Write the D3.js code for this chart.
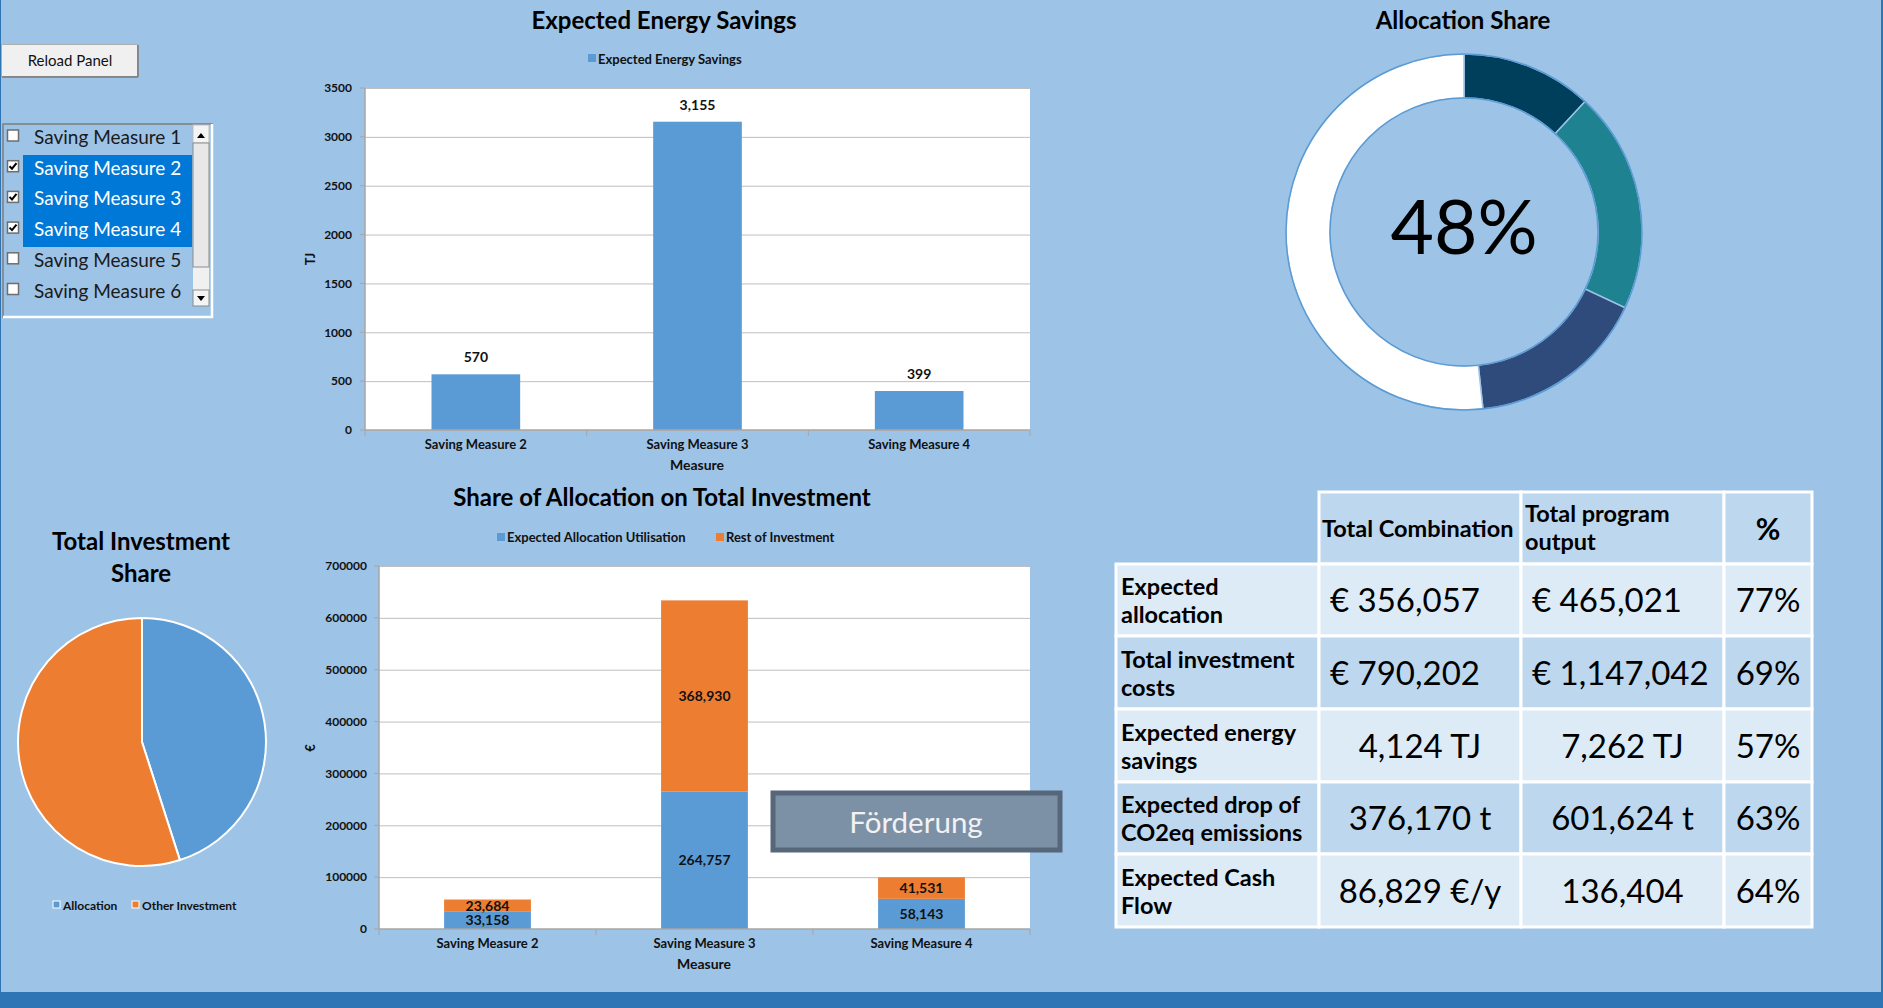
<!DOCTYPE html>
<html><head><meta charset="utf-8">
<script src="https://cdn.jsdelivr.net/npm/d3@7"></script>
<style>
html,body{margin:0;padding:0;background:#9DC3E6;overflow:hidden}
svg{display:block}
text{font-family:Lato,"Open Sans",sans-serif}
</style></head><body>
<svg id="c" width="1883" height="1008"></svg>
<script>
// ---------- DATA ----------
const measures = ["Saving Measure 2", "Saving Measure 3", "Saving Measure 4"];
const energySavings = [570, 3155, 399];
const energyTicks = [0, 500, 1000, 1500, 2000, 2500, 3000, 3500];
const allocationUtil = [33158, 264757, 58143];
const restInvestment = [23684, 368930, 41531];
const investTicks = [0, 100000, 200000, 300000, 400000, 500000, 600000, 700000];
const listItems = ["Saving Measure 1", "Saving Measure 2", "Saving Measure 3", "Saving Measure 4", "Saving Measure 5", "Saving Measure 6"];
const listChecked = [false, true, true, true, false, false];
const donutLabels = ["Saving Measure 2", "Saving Measure 3", "Saving Measure 4", "Remaining"];
const donutValues = [11.9, 20.1, 16.3, 51.7];
const donutCentre = "48%";
const pieLabels = ["Allocation", "Other Investment"];
const pieValues = [356057, 434145];
const tableHeader = [["Total Combination"], ["Total program", "output"], ["%"]];
const tableRowLabels = [["Expected", "allocation"], ["Total investment", "costs"], ["Expected energy", "savings"], ["Expected drop of", "CO2eq emissions"], ["Expected Cash", "Flow"]];
const tableCombination = ["€ 356,057", "€ 790,202", "4,124 TJ", "376,170 t", "86,829 €/y"];
const tableProgram = ["€ 465,021", "€ 1,147,042", "7,262 TJ", "601,624 t", "136,404"];
const tablePct = ["77%", "69%", "57%", "63%", "64%"];

// ---------- STYLE ----------
const BLUE = "#5B9BD5", ORANGE = "#ED7D31", GRID = "#BFBFBF", AXIS = "#A6A6A6";
const TITLE = 24, CAT = 13, LEG = 13, VAL = 14;
const svg = d3.select("#c");

svg.append("rect").attr("x", 0).attr("y", 0).attr("width", 1883).attr("height", 1008).attr("fill", "#9DC3E6");
svg.append("rect").attr("x", 0).attr("y", 992).attr("width", 1883).attr("height", 16).attr("fill", "#2E75B6");
svg.append("rect").attr("x", 1881).attr("y", 0).attr("width", 2).attr("height", 1008).attr("fill", "#2E75B6");
svg.append("rect").attr("x", 0).attr("y", 0).attr("width", 1).attr("height", 1008).attr("fill", "#2E75B6");

// ---------- Reload button ----------
const btn = svg.append("g");
btn.append("rect").attr("x", 1.5).attr("y", 44.5).attr("width", 136).attr("height", 32).attr("fill", "#F0F0F0").attr("stroke", "#ADADAD");
btn.append("line").attr("x1", 2).attr("x2", 138).attr("y1", 77).attr("y2", 77).attr("stroke", "#7A7A7A").attr("stroke-width", 1.5);
btn.append("line").attr("x1", 138).attr("x2", 138).attr("y1", 45).attr("y2", 77).attr("stroke", "#7A7A7A").attr("stroke-width", 1.5);
btn.append("text").attr("x", 70).attr("y", 66).attr("text-anchor", "middle").attr("font-size", 15).attr("fill", "#111").text("Reload Panel");

// ---------- Listbox ----------
const lb = svg.append("g");
lb.append("rect").attr("x", 3).attr("y", 124).attr("width", 209).attr("height", 193).attr("fill", "none").attr("stroke", "#7F7F7F").attr("stroke-width", 1.5);
lb.append("line").attr("x1", 212).attr("x2", 212).attr("y1", 124).attr("y2", 318).attr("stroke", "#FFFFFF").attr("stroke-width", 2.5);
lb.append("line").attr("x1", 3).attr("x2", 213).attr("y1", 317).attr("y2", 317).attr("stroke", "#FFFFFF").attr("stroke-width", 2.5);
const rowH = 30.7, row0 = 124;
lb.append("rect").attr("x", 23).attr("y", 155).attr("width", 169).attr("height", 92).attr("fill", "#0078D7");
listItems.forEach((t, i) => {
  const cy = row0 + rowH * i + 11;
  lb.append("rect").attr("x", 7.5).attr("y", cy - 5).attr("width", 11).attr("height", 11).attr("fill", "#FFFFFF").attr("stroke", "#6E6E6E").attr("stroke-width", 1.5);
  if (listChecked[i]) {
    lb.append("path").attr("d", `M${9.5},${cy + 0.5} L${12},${cy + 3} L${16.5},${cy - 2.5}`).attr("fill", "none").attr("stroke", "#000").attr("stroke-width", 2);
  }
  lb.append("text").attr("x", 34).attr("y", row0 + rowH * i + 20).attr("font-size", 19)
    .attr("fill", listChecked[i] ? "#FFFFFF" : "#1A1A1A").text(t);
});
lb.append("rect").attr("x", 193).attr("y", 125).attr("width", 16).attr("height", 181).attr("fill", "#F0F0F0");
lb.append("rect").attr("x", 193).attr("y", 125).attr("width", 16).attr("height", 18).attr("fill", "#F4F4F4").attr("stroke", "#BDBDBD");
lb.append("rect").attr("x", 193).attr("y", 143).attr("width", 16).attr("height", 124).attr("fill", "#E8E8E8").attr("stroke", "#8C8C8C");
lb.append("rect").attr("x", 193).attr("y", 290).attr("width", 16).attr("height", 16).attr("fill", "#F4F4F4").attr("stroke", "#8C8C8C");
lb.append("path").attr("d", "M197,138 L201,133 L205,138 Z").attr("fill", "#000");
lb.append("path").attr("d", "M197,296 L201,301 L205,296 Z").attr("fill", "#000");

// ---------- Chart 1: Expected Energy Savings ----------
(function () {
  const L = 365, R = 1030, T = 88, B = 430;
  const g = svg.append("g");
  const x = d3.scaleBand().domain(measures).range([L, R]).paddingInner(0.6).paddingOuter(0.3);
  const y = d3.scaleLinear().domain([0, 3500]).range([B, T]);
  g.append("rect").attr("x", L).attr("y", T).attr("width", R - L).attr("height", B - T).attr("fill", "#FFFFFF");
  const ya = d3.axisLeft(y).tickValues(energyTicks).tickSize(R - L).tickPadding(8).tickFormat(d3.format("d"));
  const ag = g.append("g").attr("transform", `translate(${R},0)`).call(ya);
  ag.select(".domain").remove();
  ag.selectAll(".tick line").attr("stroke", GRID);
  ag.selectAll(".tick text").attr("font-size", 12).attr("font-weight", "bold").attr("fill", "#111").attr("x", -(R - L) - 13);
  energyTicks.forEach(v => g.append("line").attr("x1", L - 5).attr("x2", L).attr("y1", y(v)).attr("y2", y(v)).attr("stroke", AXIS));
  g.append("line").attr("x1", L).attr("x2", L).attr("y1", T).attr("y2", B).attr("stroke", AXIS).attr("stroke-width", 1.5);
  g.selectAll("rect.bar").data(energySavings).join("rect").attr("class", "bar")
    .attr("x", (d, i) => x(measures[i])).attr("width", x.bandwidth())
    .attr("y", d => y(d)).attr("height", d => B - y(d)).attr("fill", BLUE);
  g.append("line").attr("x1", L).attr("x2", R).attr("y1", B).attr("y2", B).attr("stroke", AXIS).attr("stroke-width", 1.5);
  const step = x.step();
  for (let i = 0; i <= measures.length; i++) {
    g.append("line").attr("x1", L + step * i).attr("x2", L + step * i).attr("y1", B).attr("y2", B + 6).attr("stroke", AXIS);
  }
  g.selectAll("text.val").data(energySavings).join("text").attr("class", "val")
    .attr("x", (d, i) => x(measures[i]) + x.bandwidth() / 2).attr("y", d => y(d) - 12)
    .attr("text-anchor", "middle").attr("font-size", VAL).attr("font-weight", "bold").attr("fill", "#111")
    .text(d => d3.format(",")(d));
  g.selectAll("text.cat").data(measures).join("text").attr("class", "cat")
    .attr("x", d => x(d) + x.bandwidth() / 2).attr("y", 449).attr("text-anchor", "middle")
    .attr("font-size", CAT).attr("font-weight", "bold").attr("fill", "#111").text(d => d);
  g.append("text").attr("x", 697).attr("y", 470).attr("text-anchor", "middle").attr("font-size", 14).attr("font-weight", "bold").attr("fill", "#111").text("Measure");
  g.append("text").attr("transform", "translate(315,259) rotate(-90)").attr("text-anchor", "middle").attr("font-size", 13).attr("font-weight", "bold").attr("fill", "#111").text("TJ");
  g.append("text").attr("x", 664).attr("y", 29).attr("text-anchor", "middle").attr("font-size", TITLE).attr("font-weight", "bold").attr("fill", "#000").text("Expected Energy Savings");
  g.append("rect").attr("x", 588).attr("y", 54).attr("width", 8).attr("height", 8).attr("fill", BLUE);
  g.append("text").attr("x", 598).attr("y", 63.5).attr("font-size", LEG).attr("font-weight", "bold").attr("fill", "#111").text("Expected Energy Savings");
})();

// ---------- Chart 2: Share of Allocation on Total Investment ----------
(function () {
  const L = 379, R = 1030, T = 566, B = 929;
  const g = svg.append("g");
  const x = d3.scaleBand().domain(measures).range([L, R]).paddingInner(0.6).paddingOuter(0.3);
  const y = d3.scaleLinear().domain([0, 700000]).range([B, T]);
  g.append("rect").attr("x", L).attr("y", T).attr("width", R - L).attr("height", B - T).attr("fill", "#FFFFFF");
  const ya = d3.axisLeft(y).tickValues(investTicks).tickSize(R - L).tickPadding(8).tickFormat(d3.format("d"));
  const ag = g.append("g").attr("transform", `translate(${R},0)`).call(ya);
  ag.select(".domain").remove();
  ag.selectAll(".tick line").attr("stroke", GRID);
  ag.selectAll(".tick text").attr("font-size", 12).attr("font-weight", "bold").attr("fill", "#111").attr("x", -(R - L) - 12);
  investTicks.forEach(v => g.append("line").attr("x1", L - 5).attr("x2", L).attr("y1", y(v)).attr("y2", y(v)).attr("stroke", AXIS));
  g.append("line").attr("x1", L).attr("x2", L).attr("y1", T).attr("y2", B).attr("stroke", AXIS).attr("stroke-width", 1.5);
  const stack = measures.map((m, i) => ({ m, a: allocationUtil[i], r: restInvestment[i] }));
  g.selectAll("rect.a").data(stack).join("rect").attr("class", "a")
    .attr("x", d => x(d.m)).attr("width", x.bandwidth()).attr("y", d => y(d.a)).attr("height", d => B - y(d.a)).attr("fill", BLUE);
  g.selectAll("rect.r").data(stack).join("rect").attr("class", "r")
    .attr("x", d => x(d.m)).attr("width", x.bandwidth()).attr("y", d => y(d.a + d.r)).attr("height", d => y(d.a) - y(d.a + d.r)).attr("fill", ORANGE);
  g.append("line").attr("x1", L).attr("x2", R).attr("y1", B).attr("y2", B).attr("stroke", AXIS).attr("stroke-width", 1.5);
  const step = x.step();
  for (let i = 0; i <= measures.length; i++) {
    g.append("line").attr("x1", L + step * i).attr("x2", L + step * i).attr("y1", B).attr("y2", B + 6).attr("stroke", AXIS);
  }
  const lab = (cls, f) => g.selectAll("text." + cls).data(stack).join("text").attr("class", cls)
    .attr("x", d => x(d.m) + x.bandwidth() / 2).attr("y", d => f(d) + 5)
    .attr("text-anchor", "middle").attr("font-size", VAL).attr("font-weight", "bold").attr("fill", "#111");
  lab("la", d => y(d.a / 2)).text(d => d3.format(",")(d.a));
  lab("lr", d => y(d.a + d.r / 2)).text(d => d3.format(",")(d.r));
  g.selectAll("text.cat").data(measures).join("text").attr("class", "cat")
    .attr("x", d => x(d) + x.bandwidth() / 2).attr("y", 948).attr("text-anchor", "middle")
    .attr("font-size", CAT).attr("font-weight", "bold").attr("fill", "#111").text(d => d);
  g.append("text").attr("x", 704).attr("y", 969).attr("text-anchor", "middle").attr("font-size", 14).attr("font-weight", "bold").attr("fill", "#111").text("Measure");
  g.append("text").attr("transform", "translate(315,748) rotate(-90)").attr("text-anchor", "middle").attr("font-size", 13).attr("font-weight", "bold").attr("fill", "#111").text("€");
  g.append("text").attr("x", 662).attr("y", 506).attr("text-anchor", "middle").attr("font-size", TITLE).attr("font-weight", "bold").attr("fill", "#000").text("Share of Allocation on Total Investment");
  g.append("rect").attr("x", 497).attr("y", 533).attr("width", 8).attr("height", 8).attr("fill", BLUE);
  g.append("text").attr("x", 507).attr("y", 542).attr("font-size", LEG).attr("font-weight", "bold").attr("fill", "#111").text("Expected Allocation Utilisation");
  g.append("rect").attr("x", 716).attr("y", 533).attr("width", 8).attr("height", 8).attr("fill", ORANGE);
  g.append("text").attr("x", 726).attr("y", 542).attr("font-size", LEG).attr("font-weight", "bold").attr("fill", "#111").text("Rest of Investment");

  g.append("rect").attr("x", 773).attr("y", 793).attr("width", 287).attr("height", 57).attr("fill", "#7D91A6").attr("stroke", "#56677A").attr("stroke-width", 5);
  g.append("text").attr("x", 916).attr("y", 833).attr("text-anchor", "middle").attr("font-size", 29.5).attr("fill", "#F2F2F2").text("Förderung");
})();

// ---------- Donut: Allocation Share ----------
(function () {
  const cx = 1464, cy = 232, ro = 178, ri = 134;
  const g = svg.append("g").attr("transform", `translate(${cx},${cy})`);
  const colors = ["#003F5C", "#1E8290", "#2F4B7C", "#FFFFFF"];
  const arcs = d3.pie().sort(null)(donutValues);
  const arc = d3.arc().innerRadius(ri).outerRadius(ro);
  g.selectAll("path").data(arcs).join("path").attr("d", arc)
    .attr("fill", (d, i) => colors[i]).attr("stroke", "#9DC3E6").attr("stroke-width", 1.5);
  g.append("circle").attr("r", ro).attr("fill", "none").attr("stroke", BLUE).attr("stroke-width", 1.5);
  g.append("circle").attr("r", ri).attr("fill", "none").attr("stroke", BLUE).attr("stroke-width", 1.5);
  g.append("text").attr("y", 22).attr("text-anchor", "middle").attr("font-size", 75).attr("fill", "#000").text(donutCentre);
  svg.append("text").attr("x", 1463).attr("y", 29).attr("text-anchor", "middle").attr("font-size", TITLE).attr("font-weight", "bold").attr("fill", "#000").text("Allocation Share");
})();

// ---------- Pie: Total Investment Share ----------
(function () {
  const cx = 142, cy = 742, r = 124;
  const g = svg.append("g").attr("transform", `translate(${cx},${cy})`);
  const arcs = d3.pie().sort(null)(pieValues);
  const arc = d3.arc().innerRadius(0).outerRadius(r);
  g.selectAll("path").data(arcs).join("path").attr("d", arc)
    .attr("fill", (d, i) => [BLUE, ORANGE][i]).attr("stroke", "#FFFFFF").attr("stroke-width", 2);
  svg.append("text").attr("x", 141).attr("y", 550).attr("text-anchor", "middle").attr("font-size", TITLE).attr("font-weight", "bold").attr("fill", "#000").text("Total Investment");
  svg.append("text").attr("x", 141).attr("y", 582).attr("text-anchor", "middle").attr("font-size", TITLE).attr("font-weight", "bold").attr("fill", "#000").text("Share");
  const lg = [[53, 63, 0], [132, 142, 1]];
  lg.forEach(([mx, tx, i]) => {
    svg.append("rect").attr("x", mx).attr("y", 901).attr("width", 7).attr("height", 7).attr("fill", [BLUE, ORANGE][i]).attr("stroke", "#FFFFFF");
    svg.append("text").attr("x", tx).attr("y", 909.5).attr("font-size", 12).attr("font-weight", "bold").attr("fill", "#111").text(pieLabels[i]);
  });
})();

// ---------- Table ----------
(function () {
  const xs = [1116, 1319, 1521, 1724, 1812];
  const ys = [492, 564, 636, 709, 782, 854, 927];
  const g = svg.append("g");
  const DARK = "#BDD7EE", LIGHT = "#DDEBF7";
  for (let c = 1; c < 4; c++) {
    g.append("rect").attr("x", xs[c]).attr("y", ys[0]).attr("width", xs[c + 1] - xs[c]).attr("height", ys[1] - ys[0])
      .attr("fill", DARK).attr("stroke", "#FFFFFF").attr("stroke-width", 3);
  }
  for (let r = 0; r < 5; r++) {
    for (let c = 0; c < 4; c++) {
      g.append("rect").attr("x", xs[c]).attr("y", ys[r + 1]).attr("width", xs[c + 1] - xs[c]).attr("height", ys[r + 2] - ys[r + 1])
        .attr("fill", r % 2 === 0 ? LIGHT : DARK).attr("stroke", "#FFFFFF").attr("stroke-width", 3);
    }
  }
  const HF = 23.5;
  g.append("text").attr("x", xs[1] + 3).attr("y", 537).attr("font-size", HF).attr("font-weight", "bold").attr("fill", "#000").text(tableHeader[0][0]);
  g.append("text").attr("x", xs[2] + 4).attr("y", 522).attr("font-size", HF).attr("font-weight", "bold").attr("fill", "#000").text(tableHeader[1][0]);
  g.append("text").attr("x", xs[2] + 4).attr("y", 550).attr("font-size", HF).attr("font-weight", "bold").attr("fill", "#000").text(tableHeader[1][1]);
  g.append("text").attr("x", (xs[3] + xs[4]) / 2).attr("y", 540).attr("text-anchor", "middle").attr("font-size", 30).attr("font-weight", "bold").attr("fill", "#000").text(tableHeader[2][0]);
  tableRowLabels.forEach((lines, r) => {
    const mid = (ys[r + 1] + ys[r + 2]) / 2;
    lines.forEach((t, k) => g.append("text").attr("x", xs[0] + 5).attr("y", mid - 5 + k * 28).attr("font-size", HF).attr("font-weight", "bold").attr("fill", "#000").text(t));
    const isEuro = v => v.startsWith("€");
    const place = (v, c) => {
      const t = g.append("text").attr("y", mid + 12).attr("font-size", 33).attr("fill", "#000").text(v);
      if (isEuro(v)) t.attr("x", xs[c] + 11);
      else t.attr("x", (xs[c] + xs[c + 1]) / 2).attr("text-anchor", "middle");
    };
    place(tableCombination[r], 1);
    place(tableProgram[r], 2);
    g.append("text").attr("x", (xs[3] + xs[4]) / 2).attr("y", mid + 12).attr("text-anchor", "middle").attr("font-size", 33).attr("fill", "#000").text(tablePct[r]);
  });
})();
</script>
</body></html>
